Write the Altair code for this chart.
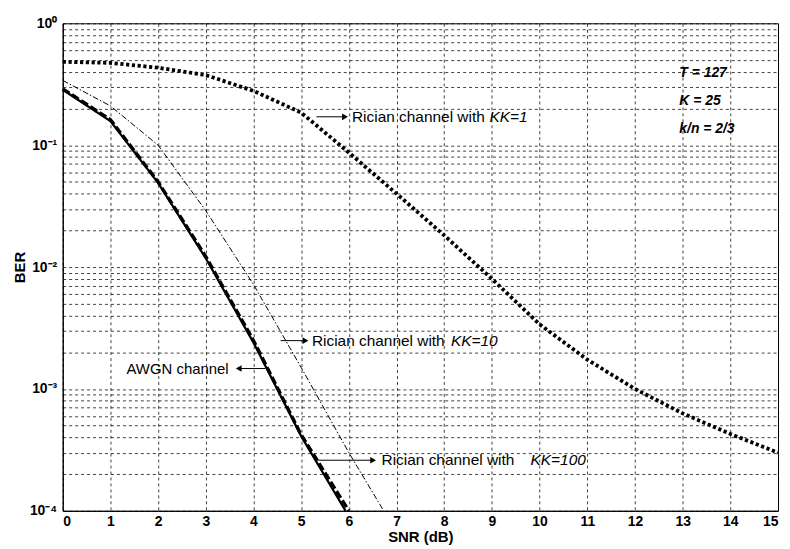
import altair as alt
import pandas as pd

# ---------------- data ----------------
snr_kk1 = [0, 1, 2, 3, 4, 5, 6, 7, 8, 9, 10, 11, 12, 13, 14, 15]
ber_kk1 = [0.483, 0.474, 0.432, 0.376, 0.279, 0.185, 0.087, 0.040, 0.0182,
           0.0080, 0.00339, 0.00174, 0.00100, 0.00063, 0.000427, 0.0003]

snr_kk10 = [0, 1, 2, 3, 4, 5, 6, 6.73]
ber_kk10 = [0.34, 0.21, 0.10, 0.029, 0.0072, 0.0015, 0.0003, 0.0001]

snr_awgn = [0, 1, 2, 3, 4, 5, 6.0]
ber_awgn = [0.29, 0.162, 0.05, 0.0122, 0.0025, 0.00042, 0.0001]

snr_kk100 = [0, 1, 2, 3, 4, 5, 5.93]
ber_kk100 = [0.285, 0.158, 0.049, 0.0118, 0.0024, 0.00041, 0.0001]

x_ticks = list(range(16))
y_decades = [1e-4, 1e-3, 1e-2, 1e-1, 1.0]
y_labels = ["10⁻⁴", "10⁻³", "10⁻²", "10⁻¹", "10⁰"]

# annotations: normal text part (right end), italic part (left start)
ann_text = ["Rician channel with", "Rician channel with", "Rician channel with"]
ann_end_x = [8.85, 8.01, 9.47]
ann_y = [0.171, 0.00249, 0.00026]
ann_it = ["KK=1", "KK=10", "KK=100"]
ann_it_x = [8.95, 8.14, 9.81]

awgn_label = "AWGN channel"
awgn_label_x = 3.48
awgn_label_y = 0.00147

# arrows: tail x, head x, y
arr_x1 = [5.32, 4.57, 5.36, 4.25]
arr_x2 = [5.92, 5.09, 6.51, 3.69]
arr_y = [0.171, 0.00249, 0.00026, 0.00147]
arr_dir = ["triangle-right", "triangle-right", "triangle-right", "triangle-left"]

param_text = ["T = 127", "K = 25", "k/n = 2/3"]
param_x = [12.93, 12.93, 12.93]
param_y = [0.391, 0.231, 0.136]

# ---------------- scales ----------------
minor = []
for d in [1e-4, 1e-3, 1e-2, 1e-1]:
    for m in range(1, 10):
        minor.append(round(d * m, 10))
minor.append(1.0)

label_expr = " : ".join(
    f"datum.value == {v} ? '{l}'" for v, l in zip(y_decades, y_labels)
) + " : ''"

xs = alt.Scale(domain=[0, 15], nice=False, zero=False)
ys = alt.Scale(type="log", domain=[1e-4, 1], nice=False)

X = alt.X("x:Q", scale=xs,
          axis=alt.Axis(values=x_ticks, title="SNR (dB)", grid=True, ticks=False,
                        labelPadding=4, titleY=26, titleBaseline="middle",
                        format="d"))
Y = alt.Y("y:Q", scale=ys,
          axis=alt.Axis(values=minor, title="BER", grid=True, ticks=False,
                        labelExpr=label_expr, labelPadding=6,
                        titleX=-43, titleY=245, titleBaseline="middle",
                        titleAlign="center", titleAngle=270))

def series(xv, yv):
    return pd.DataFrame({"x": xv, "y": yv})

base_x = alt.X("x:Q", scale=xs)
base_y = alt.Y("y:Q", scale=ys)

l_kk1 = alt.Chart(series(snr_kk1, ber_kk1)).mark_line(
    color="black", strokeWidth=3.8, strokeDash=[3.2, 2.6], strokeCap="butt"
).encode(x=X, y=Y)

l_kk10 = alt.Chart(series(snr_kk10, ber_kk10)).mark_line(
    color="black", strokeWidth=1, strokeDash=[6, 2, 1.5, 2]
).encode(x=base_x, y=base_y)

l_kk100 = alt.Chart(series(snr_kk100, ber_kk100)).mark_line(
    color="black", strokeWidth=2.2
).encode(x=base_x, y=base_y)

l_awgn = alt.Chart(series(snr_awgn, ber_awgn)).mark_line(
    color="black", strokeWidth=3.4, strokeDash=[8, 3]
).encode(x=base_x, y=base_y)

arrows = pd.DataFrame({"x": arr_x1, "x2": arr_x2, "y": arr_y, "shape": arr_dir})
arr_rules = alt.Chart(arrows).mark_rule(color="black", strokeWidth=1).encode(
    x=base_x, x2="x2:Q", y=base_y)
arr_heads = alt.Chart(arrows).mark_point(
    filled=True, color="black", size=45, opacity=1
).encode(x=alt.X("x2:Q", scale=xs), y=base_y,
         shape=alt.Shape("shape:N", scale=None, legend=None))

ann = pd.DataFrame({"x": ann_end_x, "y": ann_y, "t": ann_text})
ann_t = alt.Chart(ann).mark_text(
    align="right", baseline="middle", font="Liberation Sans", fontSize=15.5, color="black"
).encode(x=base_x, y=base_y, text="t:N")

ann2 = pd.DataFrame({"x": ann_it_x, "y": ann_y, "t": ann_it})
ann_i = alt.Chart(ann2).mark_text(
    align="left", baseline="middle", font="Liberation Sans", fontSize=15.5,
    fontStyle="italic", color="black"
).encode(x=base_x, y=base_y, text="t:N")

awgn_t = alt.Chart(pd.DataFrame({"x": [awgn_label_x], "y": [awgn_label_y], "t": [awgn_label]})).mark_text(
    align="right", baseline="middle", font="Liberation Sans", fontSize=15, color="black"
).encode(x=base_x, y=base_y, text="t:N")

params = pd.DataFrame({"x": param_x, "y": param_y, "t": param_text})
param_t = alt.Chart(params).mark_text(
    align="left", baseline="middle", font="Liberation Sans", fontSize=14,
    fontStyle="italic", fontWeight="bold", color="black"
).encode(x=base_x, y=base_y, text="t:N")

chart = alt.layer(
    l_kk1, l_kk10, l_kk100, l_awgn, arr_rules, arr_heads, ann_t, ann_i, awgn_t, param_t
).properties(
    width=719, height=490,
    autosize=alt.AutoSizeParams(type="none"),
    padding={"left": 55, "top": 14, "right": 4, "bottom": 35},
    background="white",
).configure_view(
    stroke="black", strokeWidth=1
).configure_axis(
    domainColor="black", domainWidth=1,
    gridColor="black", gridDash=[3, 3], gridOpacity=0.75, gridWidth=1,
    labelFont="Liberation Sans", labelFontSize=14, labelFontWeight="bold",
    labelColor="black",
    titleFont="Liberation Sans", titleFontSize=15, titleFontWeight="bold",
    titleColor="black",
)

chart.save("out.html", embed_options={"renderer": "svg", "actions": False})
